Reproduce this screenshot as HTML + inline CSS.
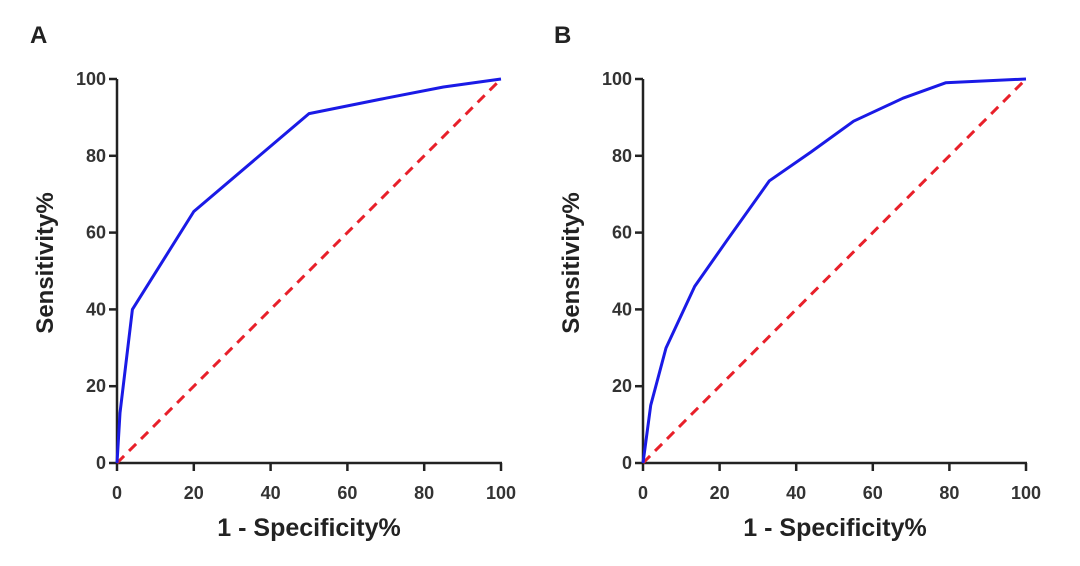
<!DOCTYPE html>
<html><head><meta charset="utf-8"><style>
html,body{margin:0;padding:0;background:#fff;}
svg{display:block;font-family:"Liberation Sans",Arial,sans-serif;font-weight:bold;}
</style></head><body>
<svg width="1080" height="566" viewBox="0 0 1080 566">
<g fill="#222">
<text x="30" y="43" font-size="24">A</text>
<text x="554" y="43" font-size="24">B</text>
</g>
<!-- Panel A -->
<g transform="translate(117,463)">
<g stroke="#222" stroke-width="2.5" fill="none">
<line x1="0" y1="0" x2="0" y2="-384"/>
<line x1="0" y1="0" x2="385" y2="0"/>
<line x1="-8" y1="0" x2="0" y2="0"/><line x1="-8" y1="-76.8" x2="0" y2="-76.8"/><line x1="-8" y1="-153.6" x2="0" y2="-153.6"/><line x1="-8" y1="-230.4" x2="0" y2="-230.4"/><line x1="-8" y1="-307.2" x2="0" y2="-307.2"/><line x1="-8" y1="-384" x2="0" y2="-384"/>
<line x1="0" y1="0" x2="0" y2="8"/><line x1="76.8" y1="0" x2="76.8" y2="8"/><line x1="153.6" y1="0" x2="153.6" y2="8"/><line x1="230.4" y1="0" x2="230.4" y2="8"/><line x1="307.2" y1="0" x2="307.2" y2="8"/><line x1="384" y1="0" x2="384" y2="8"/>
</g>
<g fill="#333" font-size="18" text-anchor="end">
<text x="-11" y="6">0</text><text x="-11" y="-70.8">20</text><text x="-11" y="-147.6">40</text><text x="-11" y="-224.4">60</text><text x="-11" y="-301.2">80</text><text x="-11" y="-378">100</text>
</g>
<g fill="#333" font-size="18" text-anchor="middle">
<text x="0" y="36">0</text><text x="76.8" y="36">20</text><text x="153.6" y="36">40</text><text x="230.4" y="36">60</text><text x="307.2" y="36">80</text><text x="384" y="36">100</text>
</g>
<line x1="0" y1="0" x2="384" y2="-384" stroke="#e8202a" stroke-width="3" stroke-dasharray="10,7"/>
<polyline fill="none" stroke="#1a1ae6" stroke-width="3" stroke-linejoin="round" points="0,0 3,-50 15.4,-153.6 76.8,-251.5 192,-349.4 268.8,-364.8 326.4,-376 384,-384"/>
<text x="-72" y="-200" transform="rotate(-90,-72,-200)" text-anchor="middle" font-size="24" fill="#222" dy="8">Sensitivity%</text>
<text x="192" y="73" text-anchor="middle" font-size="25" fill="#222">1 - Specificity%</text>
</g>
<!-- Panel B -->
<g transform="translate(643,463)">
<g stroke="#222" stroke-width="2.5" fill="none">
<line x1="0" y1="0" x2="0" y2="-384"/>
<line x1="0" y1="0" x2="384" y2="0"/>
<line x1="-8" y1="0" x2="0" y2="0"/><line x1="-8" y1="-76.8" x2="0" y2="-76.8"/><line x1="-8" y1="-153.6" x2="0" y2="-153.6"/><line x1="-8" y1="-230.4" x2="0" y2="-230.4"/><line x1="-8" y1="-307.2" x2="0" y2="-307.2"/><line x1="-8" y1="-384" x2="0" y2="-384"/>
<line x1="0" y1="0" x2="0" y2="8"/><line x1="76.6" y1="0" x2="76.6" y2="8"/><line x1="153.2" y1="0" x2="153.2" y2="8"/><line x1="229.8" y1="0" x2="229.8" y2="8"/><line x1="306.4" y1="0" x2="306.4" y2="8"/><line x1="383" y1="0" x2="383" y2="8"/>
</g>
<g fill="#333" font-size="18" text-anchor="end">
<text x="-11" y="6">0</text><text x="-11" y="-70.8">20</text><text x="-11" y="-147.6">40</text><text x="-11" y="-224.4">60</text><text x="-11" y="-301.2">80</text><text x="-11" y="-378">100</text>
</g>
<g fill="#333" font-size="18" text-anchor="middle">
<text x="0" y="36">0</text><text x="76.6" y="36">20</text><text x="153.2" y="36">40</text><text x="229.8" y="36">60</text><text x="306.4" y="36">80</text><text x="383" y="36">100</text>
</g>
<line x1="0" y1="0" x2="383" y2="-384" stroke="#e8202a" stroke-width="3" stroke-dasharray="10,7"/>
<polyline fill="none" stroke="#1a1ae6" stroke-width="3" stroke-linejoin="round" points="0,0 7.7,-57.6 23,-115 51.7,-176.6 84,-222.7 126.4,-282.2 168,-311 210.6,-341.8 260,-364.8 302.6,-380.2 383,-384"/>
<text x="-72" y="-200" transform="rotate(-90,-72,-200)" text-anchor="middle" font-size="24" fill="#222" dy="8">Sensitivity%</text>
<text x="192" y="73" text-anchor="middle" font-size="25" fill="#222">1 - Specificity%</text>
</g>
</svg>
</body></html>
